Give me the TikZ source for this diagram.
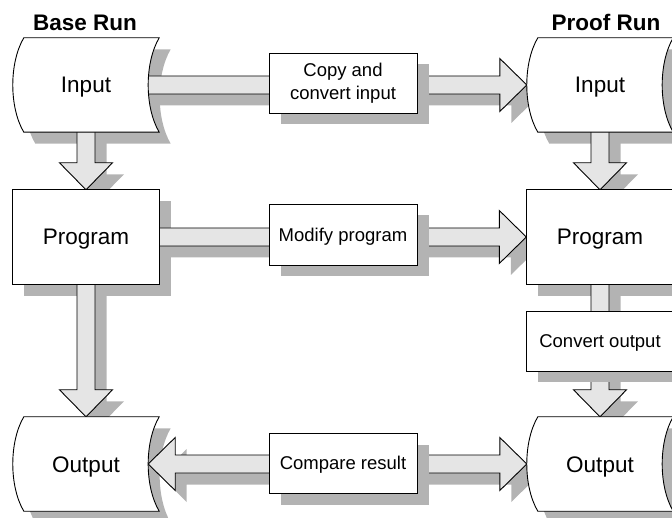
\documentclass[tikz,border=0pt]{standalone}
\usepackage{fontspec}
\setmainfont{Liberation Sans}
\usetikzlibrary{calc,shadows}

\definecolor{shadowgray}{RGB}{179,179,179}
\definecolor{arrowgray}{RGB}{229,229,229}

\pgfdeclarelayer{shadowlayer}
\pgfdeclarelayer{arrowlayer}
\pgfdeclarelayer{shapelayer}
\pgfsetlayers{shadowlayer,arrowlayer,shapelayer,main}

\tikzset{
  outline/.style={draw=black, line width=0.9pt, fill=white},
  shadowfill/.style={fill=shadowgray, draw=none},
  arrowbody/.style={draw=black, line width=0.9pt, fill=arrowgray, line join=miter},
  holder/.style={draw=none, inner sep=0pt, minimum height=94pt,
                 text height=16pt, text depth=0pt,
                 font=\fontsize{22.5}{27}\selectfont},
  labelbox/.style={draw=black, line width=0.9pt, fill=white,
                   minimum width=148pt, minimum height=60pt, inner sep=0pt,
                   align=center, font=\fontsize{18.5}{22.5}\selectfont,
                   general shadow={fill=shadowgray, shadow xshift=11.5pt, shadow yshift=-11.5pt}},
  onelabel/.style={labelbox, text height=13.3pt, text depth=0pt},
  runtitle/.style={anchor=base, inner sep=0pt, font=\bfseries\fontsize{22.5}{26}\selectfont},
  dropped/.style={transform canvas={xshift=11.5pt, yshift=-11.5pt}}
}

% stored-data outline: convex left side, concave right side
\newcommand\datashape[2]{%
  \path[#1] ($(#2.north west)+(11,0)$)
    .. controls ($(#2.north west)+(-3.7,25)$) and ($(#2.south west)+(-3.7,-25)$) ..
    ($(#2.south west)+(11,0)$) -- (#2.south east)
    .. controls ($(#2.south east)+(-14.7,-25)$) and ($(#2.north east)+(-14.7,25)$) ..
    (#2.north east) -- cycle;}

% plain box outline
\newcommand\boxshape[2]{\path[#1] (#2.north west) rectangle (#2.south east);}

% block arrow pointing down: options, start, tip
\newcommand\vblock[3]{%
  \path[#1] ($(#2)+(-9,0)$) -- ($(#3)+(-9,-27)$) -- ($(#3)+(-26.5,-27)$) -- (#3)
    -- ($(#3)+(26.5,-27)$) -- ($(#3)+(9,-27)$) -- ($(#2)+(9,0)$) -- cycle;}

% block arrow pointing right: options, start, tip
\newcommand\hblock[3]{%
  \path[#1] ($(#2)+(0,-9)$) -- ($(#3)+(-27,-9)$) -- ($(#3)+(-27,-26.5)$) -- (#3)
    -- ($(#3)+(-27,26.5)$) -- ($(#3)+(-27,9)$) -- ($(#2)+(0,9)$) -- cycle;}

% double-headed horizontal block arrow: options, left tip, right tip
\newcommand\dblock[3]{%
  \path[#1] (#2) -- ($(#2)+(27,-26.5)$) -- ($(#2)+(27,-9)$) -- ($(#3)+(-27,-9)$)
    -- ($(#3)+(-27,-26.5)$) -- (#3) -- ($(#3)+(-27,26.5)$) -- ($(#3)+(-27,9)$)
    -- ($(#2)+(27,9)$) -- ($(#2)+(27,26.5)$) -- cycle;}

% all arrows of the flow
\newcommand\allarrows[1]{%
  \vblock{#1}{baseIn.center}{baseProg.north}
  \vblock{#1}{baseProg.center}{baseOut.north}
  \vblock{#1}{proofIn.center}{proofProg.north}
  \vblock{#1}{proofProg.center}{proofOut.north}
  \hblock{#1}{baseIn.center}{proofIn.west}
  \hblock{#1}{baseProg.center}{proofProg.west}
  \dblock{#1}{cmpL}{proofOut.west}}

% all main shapes
\newcommand\allshapes[1]{%
  \datashape{#1}{baseIn}
  \datashape{#1}{proofIn}
  \boxshape{#1}{baseProg}
  \boxshape{#1}{proofProg}
  \datashape{#1}{baseOut}
  \datashape{#1}{proofOut}}

\begin{document}
\begin{tikzpicture}[x=1pt, y=-1pt]
\useasboundingbox (0,0) rectangle (672,518);

% run titles
\node[runtitle] (baseTitle) at (85,30.5) {Base Run};
\node[runtitle] (proofTitle) at (606,30.5) {Proof Run};

% data and program nodes
\node[holder, minimum width=146pt] (baseIn)    at (86,85)  {Input};
\node[holder, minimum width=147pt] (baseProg)  at (86,237) {Program};
\node[holder, minimum width=146pt] (baseOut)   at (86,464) {Output};
\node[holder, minimum width=146pt] (proofIn)   at (600,85)  {Input};
\node[holder, minimum width=147pt] (proofProg) at (600,237) {Program};
\node[holder, minimum width=146pt] (proofOut)  at (600,464) {Output};

% left tip of the comparison arrow, in the concave side of the base output
\coordinate (cmpL) at ($(baseOut.east)+(-11,0)$);

\begin{pgfonlayer}{shadowlayer}
  \begin{scope}[dropped]
    \allshapes{shadowfill}
    \allarrows{shadowfill}
  \end{scope}
\end{pgfonlayer}

\begin{pgfonlayer}{arrowlayer}
  \allarrows{arrowbody}
\end{pgfonlayer}

\begin{pgfonlayer}{shapelayer}
  \allshapes{outline}
\end{pgfonlayer}

% step labels sitting on the arrows
\node[labelbox] (copyStep) at (343,83) {Copy and\\convert input};
\node[onelabel, minimum height=61pt] (modStep) at (343,234.5) {Modify program};
\node[onelabel] (cmpStep) at (343,463) {Compare result};
\node[onelabel, minimum width=147pt] (convStep) at (600,341) {Convert output};
\end{tikzpicture}
\end{document}
